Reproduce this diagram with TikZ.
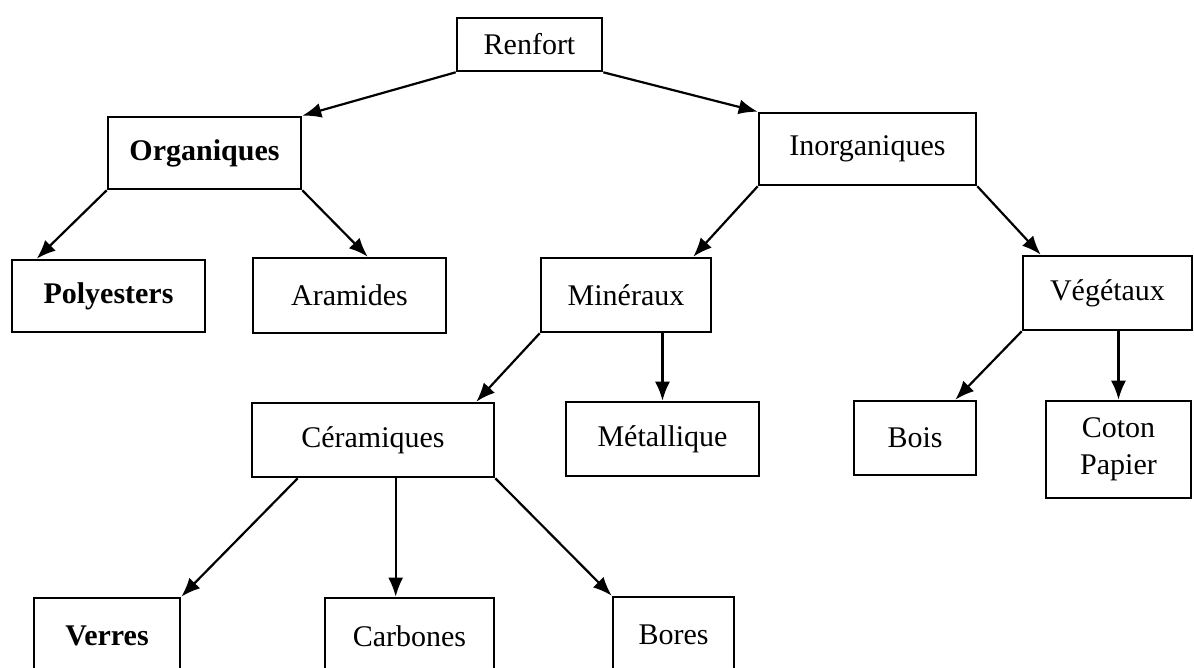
\documentclass[tikz,border=0pt]{standalone}
\usepackage{fontspec}
\setmainfont{Liberation Serif}
\usetikzlibrary{arrows.meta,calc}
\begin{document}
\begin{tikzpicture}[x=1pt,y=-1pt,
  box/.style={draw, line width=2.6pt, rectangle, inner sep=0pt, align=center,
    font=\fontsize{30}{37}\selectfont},
  conn/.style={line width=2.2pt, -{Latex[length=19pt,width=15pt]}}]
\useasboundingbox[fill=white] (0,0) rectangle (1194,668);
\node[box, minimum width=145, minimum height=53] (ren) at (529.5,44.5) {Renfort};
\node[box, minimum width=193, minimum height=72] (org) at (204.5,153) {\bfseries Organiques};
\node[box, minimum width=217, minimum height=72] (ino) at (867.5,149) {Inorganiques};
\node[box, minimum width=193, minimum height=72] (pol) at (108.5,296) {\bfseries Polyesters};
\node[box, minimum width=193, minimum height=75] (ara) at (349.5,295.5) {Aramides};
\node[box, minimum width=170, minimum height=74] (mnx) at (626,295) {Minéraux};
\node[box, minimum width=169, minimum height=74] (veg) at (1107.5,293) {Végétaux};
\node[box, minimum width=242, minimum height=74] (cer) at (373,440) {Céramiques};
\node[box, minimum width=193, minimum height=74] (met) at (662.5,439) {Métallique};
\node[box, minimum width=122, minimum height=74] (boi) at (915,438) {Bois};
\node[box, minimum width=145, minimum height=97] (cot) at (1118.5,449.5) {Coton\\Papier};
\node[box, minimum width=146, minimum height=76] (ver) at (107,636) {\bfseries Verres};
\node[box, minimum width=169, minimum height=76] (car) at (409.5,636) {Carbones};
\node[box, minimum width=121, minimum height=76] (bor) at (673.5,635) {Bores};

\draw[conn] (ren.south west) -- (org.north east);
\draw[conn] (ren.south east) -- (ino.north west);
\draw[conn] (org.south west) -- ($(pol.north west)+(26,0)$);
\draw[conn] (org.south east) -- ($(ara.north west)+(116,0)$);
\draw[conn] (ino.south west) -- ($(mnx.north east)+(-19,0)$);
\draw[conn] (ino.south east) -- ($(veg.north west)+(19,0)$);
\draw[conn] (mnx.south west) -- ($(cer.north east)+(-19,0)$);
\draw[conn] (met.north |- mnx.south) -- (met.north);
\draw[conn] (veg.south west) -- ($(boi.north east)+(-22,0)$);
\draw[conn] (cot.north |- veg.south) -- (cot.north);
\coordinate (cv) at ($(cer.south west)+(47,0)$);
\coordinate (cc) at ($(cer.south west)+(145,0)$);
\draw[conn] (cv) -- (ver.north east);
\draw[conn] (cc) -- (cc |- car.north);
\draw[conn] (cer.south east) -- (bor.north west);
\end{tikzpicture}
\end{document}
